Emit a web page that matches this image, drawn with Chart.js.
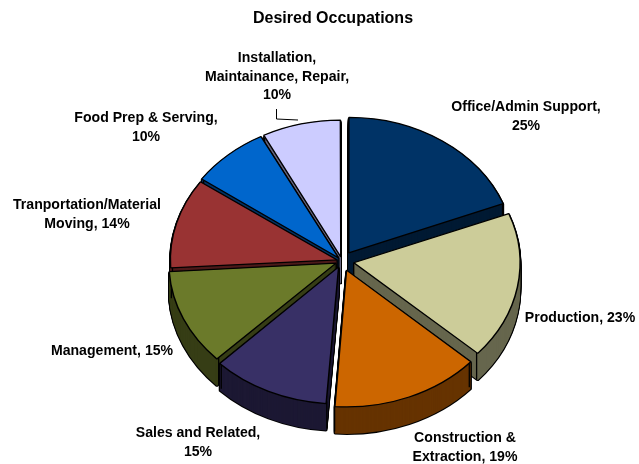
<!DOCTYPE html>
<html>
<head>
<meta charset="utf-8">
<style>html,body{margin:0;padding:0;background:#fff}#wrap{width:639px;height:464px}</style>
<script src="https://cdn.jsdelivr.net/npm/chart.js@4"></script>
</head>
<body>
<div id="wrap"><canvas id="c" width="639" height="464"></canvas></div>
<script>
const categories = ["Office/Admin Support","Production","Construction & Extraction","Sales and Related","Management","Tranportation/Material Moving","Food Prep & Serving","Installation, Maintainance, Repair"];
const percents = [25,23,19,15,15,14,10,10];
const faceColors = ["#003366","#CCCC99","#CC6600","#383066","#6B7A2A","#993333","#0066CC","#CCCCFF"];
const sideColors = ["#001A33","#66664D","#663300","#1C1833","#363D15","#4D1A1A","#003366","#666680"];
const labelLines = [
  ["Office/Admin Support,","25%"],
  ["Production, 23%"],
  ["Construction &","Extraction, 19%"],
  ["Sales and Related,","15%"],
  ["Management, 15%"],
  ["Tranportation/Material","Moving, 14%"],
  ["Food Prep & Serving,","10%"],
  ["Installation,","Maintainance, Repair,","10%"]
];
const labelAnchors = [[526,107.5],[580,318.5],[465,438.5],[198,433.5],[112,351.5],[87,205.5],[146,118.5],[277,58.5]];
const explodePx = [12,12,12,8,6.5,5,5,5];
const LINE_GAP = 18.5;
const TILT = 0.817, DEPTH = 27, CENTER_X = 342, CENTER_Y = 261;
const FONT = "bold 14.1px 'Liberation Sans', Arial, sans-serif";

const pie3d = {
  id: "pie3d",
  beforeDatasetsDraw(chart) {
    const ctx = chart.ctx;
    const arcs = chart.getDatasetMeta(0).data;
    const order = arcs.map((a, i) => i).sort((p, q) =>
      Math.sin((arcs[p].startAngle + arcs[p].endAngle) / 2) -
      Math.sin((arcs[q].startAngle + arcs[q].endAngle) / 2));
    const paint = (arc, dy, fill, stroke, width) => {
      const saved = arc.options;
      arc.options = Object.create(saved, {
        backgroundColor: {value: fill},
        borderColor: {value: stroke},
        borderWidth: {value: width}
      });
      ctx.save();
      ctx.translate(CENTER_X - arc.x, CENTER_Y + dy);
      ctx.scale(1, TILT);
      ctx.translate(0, -arc.y);
      arc.draw(ctx);
      ctx.restore();
      arc.options = saved;
    };
    order.forEach(i => {
      const arc = arcs[i];
      for (let d = DEPTH; d > 0; d--) paint(arc, d, "#000", "#000", 2.4);
      for (let d = DEPTH; d > 0; d--) paint(arc, d, sideColors[i], sideColors[i], 0);
      const off = arc.options.offset / 4;
      const mid = (arc.startAngle + arc.endAngle) / 2;
      ctx.save();
      ctx.strokeStyle = "#000";
      ctx.lineWidth = 1.3;
      [arc.startAngle, arc.endAngle].forEach(a => {
        const x = CENTER_X + off * Math.cos(mid) + arc.outerRadius * Math.cos(a);
        const y = CENTER_Y + TILT * (off * Math.sin(mid) + arc.outerRadius * Math.sin(a));
        ctx.beginPath();
        ctx.moveTo(x, y);
        ctx.lineTo(x, y + DEPTH);
        ctx.stroke();
      });
      ctx.restore();
      paint(arc, 0, faceColors[i], "#000", 1.5);
    });
    return false;
  },
  afterDraw(chart) {
    const ctx = chart.ctx;
    ctx.save();
    ctx.font = FONT;
    ctx.fillStyle = "#000";
    ctx.textAlign = "center";
    ctx.textBaseline = "middle";
    labelLines.forEach((lines, i) => {
      lines.forEach((t, j) => ctx.fillText(t, labelAnchors[i][0], labelAnchors[i][1] + j * LINE_GAP));
    });
    ctx.strokeStyle = "#000";
    ctx.lineWidth = 1;
    ctx.beginPath();
    ctx.moveTo(276.5, 109);
    ctx.lineTo(276.5, 119);
    ctx.lineTo(298, 120);
    ctx.stroke();
    ctx.restore();
  }
};

new Chart(document.getElementById("c"), {
  type: "pie",
  data: {
    labels: categories,
    datasets: [{
      data: percents,
      backgroundColor: faceColors,
      borderColor: "#000",
      borderWidth: 1.5,
      offset: explodePx.map(v => v * 4), // Chart.js moves an arc by a quarter of its offset
      clip: false
    }]
  },
  options: {
    responsive: false,
    animation: false,
    radius: 165,
    rotation: 0,
    layout: {padding: {left: 27, right: 0, top: 0, bottom: 0}},
    plugins: {
      legend: {display: false},
      tooltip: {enabled: false},
      title: {
        display: true,
        text: "Desired Occupations",
        color: "#000",
        font: {family: "'Liberation Sans', Arial, sans-serif", size: 16, weight: "bold"},
        padding: {top: 9, bottom: 4}
      }
    }
  },
  plugins: [pie3d]
});
</script>
</body>
</html>
